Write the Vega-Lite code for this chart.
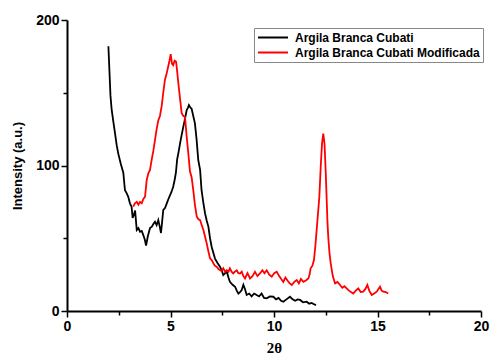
{
  "$schema": "https://vega.github.io/schema/vega-lite/v6.json",
  "width": 414,
  "height": 291,
  "autosize": {"type": "none"},
  "padding": {"left": 67, "top": 20, "right": 10, "bottom": 45},
  "background": "white",
  "config": {
    "view": {"stroke": null},
    "font": "Liberation Sans",
    "axis": {"grid": false, "domainColor": "black", "domainWidth": 2, "tickColor": "black", "tickWidth": 1.5, "labelColor": "black", "titleColor": "black"}
  },
  "datasets": {
    "xrd": [
      {"theta": 2.00, "intensity": 182, "sample": "Argila Branca Cubati"},
      {"theta": 2.05, "intensity": 165, "sample": "Argila Branca Cubati"},
      {"theta": 2.10, "intensity": 148, "sample": "Argila Branca Cubati"},
      {"theta": 2.16, "intensity": 138, "sample": "Argila Branca Cubati"},
      {"theta": 2.24, "intensity": 130, "sample": "Argila Branca Cubati"},
      {"theta": 2.32, "intensity": 122, "sample": "Argila Branca Cubati"},
      {"theta": 2.40, "intensity": 114, "sample": "Argila Branca Cubati"},
      {"theta": 2.48, "intensity": 108, "sample": "Argila Branca Cubati"},
      {"theta": 2.60, "intensity": 101, "sample": "Argila Branca Cubati"},
      {"theta": 2.72, "intensity": 95, "sample": "Argila Branca Cubati"},
      {"theta": 2.80, "intensity": 83, "sample": "Argila Branca Cubati"},
      {"theta": 2.88, "intensity": 81, "sample": "Argila Branca Cubati"},
      {"theta": 2.96, "intensity": 78.5, "sample": "Argila Branca Cubati"},
      {"theta": 3.04, "intensity": 74, "sample": "Argila Branca Cubati"},
      {"theta": 3.12, "intensity": 71.7, "sample": "Argila Branca Cubati"},
      {"theta": 3.17, "intensity": 64, "sample": "Argila Branca Cubati"},
      {"theta": 3.23, "intensity": 66, "sample": "Argila Branca Cubati"},
      {"theta": 3.29, "intensity": 69, "sample": "Argila Branca Cubati"},
      {"theta": 3.37, "intensity": 55.7, "sample": "Argila Branca Cubati"},
      {"theta": 3.45, "intensity": 57, "sample": "Argila Branca Cubati"},
      {"theta": 3.53, "intensity": 54.5, "sample": "Argila Branca Cubati"},
      {"theta": 3.61, "intensity": 55, "sample": "Argila Branca Cubati"},
      {"theta": 3.69, "intensity": 52, "sample": "Argila Branca Cubati"},
      {"theta": 3.76, "intensity": 49, "sample": "Argila Branca Cubati"},
      {"theta": 3.82, "intensity": 45, "sample": "Argila Branca Cubati"},
      {"theta": 3.90, "intensity": 51, "sample": "Argila Branca Cubati"},
      {"theta": 4.01, "intensity": 57, "sample": "Argila Branca Cubati"},
      {"theta": 4.10, "intensity": 58, "sample": "Argila Branca Cubati"},
      {"theta": 4.18, "intensity": 60, "sample": "Argila Branca Cubati"},
      {"theta": 4.25, "intensity": 61.4, "sample": "Argila Branca Cubati"},
      {"theta": 4.33, "intensity": 59, "sample": "Argila Branca Cubati"},
      {"theta": 4.41, "intensity": 62.5, "sample": "Argila Branca Cubati"},
      {"theta": 4.48, "intensity": 58, "sample": "Argila Branca Cubati"},
      {"theta": 4.54, "intensity": 53.6, "sample": "Argila Branca Cubati"},
      {"theta": 4.60, "intensity": 62, "sample": "Argila Branca Cubati"},
      {"theta": 4.65, "intensity": 69.4, "sample": "Argila Branca Cubati"},
      {"theta": 4.74, "intensity": 71, "sample": "Argila Branca Cubati"},
      {"theta": 4.82, "intensity": 74, "sample": "Argila Branca Cubati"},
      {"theta": 4.90, "intensity": 77, "sample": "Argila Branca Cubati"},
      {"theta": 4.98, "intensity": 79.7, "sample": "Argila Branca Cubati"},
      {"theta": 5.05, "intensity": 82, "sample": "Argila Branca Cubati"},
      {"theta": 5.13, "intensity": 85.4, "sample": "Argila Branca Cubati"},
      {"theta": 5.20, "intensity": 90, "sample": "Argila Branca Cubati"},
      {"theta": 5.26, "intensity": 95, "sample": "Argila Branca Cubati"},
      {"theta": 5.32, "intensity": 104, "sample": "Argila Branca Cubati"},
      {"theta": 5.40, "intensity": 110, "sample": "Argila Branca Cubati"},
      {"theta": 5.46, "intensity": 115, "sample": "Argila Branca Cubati"},
      {"theta": 5.54, "intensity": 121, "sample": "Argila Branca Cubati"},
      {"theta": 5.62, "intensity": 126.7, "sample": "Argila Branca Cubati"},
      {"theta": 5.70, "intensity": 132, "sample": "Argila Branca Cubati"},
      {"theta": 5.78, "intensity": 138, "sample": "Argila Branca Cubati"},
      {"theta": 5.85, "intensity": 140, "sample": "Argila Branca Cubati"},
      {"theta": 5.89, "intensity": 141.5, "sample": "Argila Branca Cubati"},
      {"theta": 5.95, "intensity": 140, "sample": "Argila Branca Cubati"},
      {"theta": 6.02, "intensity": 139, "sample": "Argila Branca Cubati"},
      {"theta": 6.10, "intensity": 134, "sample": "Argila Branca Cubati"},
      {"theta": 6.18, "intensity": 129, "sample": "Argila Branca Cubati"},
      {"theta": 6.26, "intensity": 118, "sample": "Argila Branca Cubati"},
      {"theta": 6.34, "intensity": 103.8, "sample": "Argila Branca Cubati"},
      {"theta": 6.43, "intensity": 97, "sample": "Argila Branca Cubati"},
      {"theta": 6.50, "intensity": 83, "sample": "Argila Branca Cubati"},
      {"theta": 6.58, "intensity": 75, "sample": "Argila Branca Cubati"},
      {"theta": 6.67, "intensity": 67, "sample": "Argila Branca Cubati"},
      {"theta": 6.75, "intensity": 62, "sample": "Argila Branca Cubati"},
      {"theta": 6.83, "intensity": 58, "sample": "Argila Branca Cubati"},
      {"theta": 6.91, "intensity": 50, "sample": "Argila Branca Cubati"},
      {"theta": 6.99, "intensity": 44, "sample": "Argila Branca Cubati"},
      {"theta": 7.07, "intensity": 40, "sample": "Argila Branca Cubati"},
      {"theta": 7.15, "intensity": 36, "sample": "Argila Branca Cubati"},
      {"theta": 7.27, "intensity": 33, "sample": "Argila Branca Cubati"},
      {"theta": 7.39, "intensity": 30.5, "sample": "Argila Branca Cubati"},
      {"theta": 7.47, "intensity": 28, "sample": "Argila Branca Cubati"},
      {"theta": 7.55, "intensity": 24.7, "sample": "Argila Branca Cubati"},
      {"theta": 7.64, "intensity": 26, "sample": "Argila Branca Cubati"},
      {"theta": 7.72, "intensity": 27, "sample": "Argila Branca Cubati"},
      {"theta": 7.80, "intensity": 23, "sample": "Argila Branca Cubati"},
      {"theta": 7.87, "intensity": 20, "sample": "Argila Branca Cubati"},
      {"theta": 8.00, "intensity": 18, "sample": "Argila Branca Cubati"},
      {"theta": 8.12, "intensity": 16.7, "sample": "Argila Branca Cubati"},
      {"theta": 8.20, "intensity": 14, "sample": "Argila Branca Cubati"},
      {"theta": 8.28, "intensity": 12, "sample": "Argila Branca Cubati"},
      {"theta": 8.36, "intensity": 13, "sample": "Argila Branca Cubati"},
      {"theta": 8.44, "intensity": 14.4, "sample": "Argila Branca Cubati"},
      {"theta": 8.52, "intensity": 18, "sample": "Argila Branca Cubati"},
      {"theta": 8.60, "intensity": 15, "sample": "Argila Branca Cubati"},
      {"theta": 8.68, "intensity": 11, "sample": "Argila Branca Cubati"},
      {"theta": 8.80, "intensity": 12, "sample": "Argila Branca Cubati"},
      {"theta": 8.92, "intensity": 10, "sample": "Argila Branca Cubati"},
      {"theta": 9.04, "intensity": 12, "sample": "Argila Branca Cubati"},
      {"theta": 9.16, "intensity": 11, "sample": "Argila Branca Cubati"},
      {"theta": 9.28, "intensity": 10, "sample": "Argila Branca Cubati"},
      {"theta": 9.40, "intensity": 12, "sample": "Argila Branca Cubati"},
      {"theta": 9.52, "intensity": 9, "sample": "Argila Branca Cubati"},
      {"theta": 9.65, "intensity": 8.7, "sample": "Argila Branca Cubati"},
      {"theta": 9.80, "intensity": 10, "sample": "Argila Branca Cubati"},
      {"theta": 9.97, "intensity": 9.8, "sample": "Argila Branca Cubati"},
      {"theta": 10.10, "intensity": 8, "sample": "Argila Branca Cubati"},
      {"theta": 10.22, "intensity": 9, "sample": "Argila Branca Cubati"},
      {"theta": 10.34, "intensity": 7, "sample": "Argila Branca Cubati"},
      {"theta": 10.45, "intensity": 6.4, "sample": "Argila Branca Cubati"},
      {"theta": 10.60, "intensity": 8, "sample": "Argila Branca Cubati"},
      {"theta": 10.77, "intensity": 9.8, "sample": "Argila Branca Cubati"},
      {"theta": 10.90, "intensity": 8, "sample": "Argila Branca Cubati"},
      {"theta": 11.02, "intensity": 7, "sample": "Argila Branca Cubati"},
      {"theta": 11.14, "intensity": 8, "sample": "Argila Branca Cubati"},
      {"theta": 11.26, "intensity": 7.6, "sample": "Argila Branca Cubati"},
      {"theta": 11.40, "intensity": 6, "sample": "Argila Branca Cubati"},
      {"theta": 11.58, "intensity": 6.4, "sample": "Argila Branca Cubati"},
      {"theta": 11.70, "intensity": 5, "sample": "Argila Branca Cubati"},
      {"theta": 11.82, "intensity": 5.5, "sample": "Argila Branca Cubati"},
      {"theta": 11.95, "intensity": 4.5, "sample": "Argila Branca Cubati"},
      {"theta": 12.03, "intensity": 4.1, "sample": "Argila Branca Cubati"},
      {"theta": 3.20, "intensity": 71.7, "sample": "Argila Branca Cubati Modificada"},
      {"theta": 3.28, "intensity": 74, "sample": "Argila Branca Cubati Modificada"},
      {"theta": 3.37, "intensity": 75, "sample": "Argila Branca Cubati Modificada"},
      {"theta": 3.45, "intensity": 73, "sample": "Argila Branca Cubati Modificada"},
      {"theta": 3.53, "intensity": 75, "sample": "Argila Branca Cubati Modificada"},
      {"theta": 3.61, "intensity": 74, "sample": "Argila Branca Cubati Modificada"},
      {"theta": 3.69, "intensity": 77, "sample": "Argila Branca Cubati Modificada"},
      {"theta": 3.77, "intensity": 78.5, "sample": "Argila Branca Cubati Modificada"},
      {"theta": 3.85, "intensity": 90, "sample": "Argila Branca Cubati Modificada"},
      {"theta": 3.93, "intensity": 94.6, "sample": "Argila Branca Cubati Modificada"},
      {"theta": 4.01, "intensity": 97, "sample": "Argila Branca Cubati Modificada"},
      {"theta": 4.09, "intensity": 103.8, "sample": "Argila Branca Cubati Modificada"},
      {"theta": 4.17, "intensity": 110, "sample": "Argila Branca Cubati Modificada"},
      {"theta": 4.25, "intensity": 117.5, "sample": "Argila Branca Cubati Modificada"},
      {"theta": 4.33, "intensity": 125, "sample": "Argila Branca Cubati Modificada"},
      {"theta": 4.41, "intensity": 131, "sample": "Argila Branca Cubati Modificada"},
      {"theta": 4.49, "intensity": 134, "sample": "Argila Branca Cubati Modificada"},
      {"theta": 4.57, "intensity": 140.4, "sample": "Argila Branca Cubati Modificada"},
      {"theta": 4.65, "intensity": 150, "sample": "Argila Branca Cubati Modificada"},
      {"theta": 4.73, "intensity": 158.8, "sample": "Argila Branca Cubati Modificada"},
      {"theta": 4.81, "intensity": 163, "sample": "Argila Branca Cubati Modificada"},
      {"theta": 4.89, "intensity": 168, "sample": "Argila Branca Cubati Modificada"},
      {"theta": 4.95, "intensity": 172, "sample": "Argila Branca Cubati Modificada"},
      {"theta": 5.01, "intensity": 176.6, "sample": "Argila Branca Cubati Modificada"},
      {"theta": 5.07, "intensity": 170, "sample": "Argila Branca Cubati Modificada"},
      {"theta": 5.13, "intensity": 169, "sample": "Argila Branca Cubati Modificada"},
      {"theta": 5.20, "intensity": 172, "sample": "Argila Branca Cubati Modificada"},
      {"theta": 5.27, "intensity": 171.3, "sample": "Argila Branca Cubati Modificada"},
      {"theta": 5.32, "intensity": 165, "sample": "Argila Branca Cubati Modificada"},
      {"theta": 5.38, "intensity": 156.5, "sample": "Argila Branca Cubati Modificada"},
      {"theta": 5.46, "intensity": 146, "sample": "Argila Branca Cubati Modificada"},
      {"theta": 5.54, "intensity": 136, "sample": "Argila Branca Cubati Modificada"},
      {"theta": 5.62, "intensity": 134, "sample": "Argila Branca Cubati Modificada"},
      {"theta": 5.70, "intensity": 133.6, "sample": "Argila Branca Cubati Modificada"},
      {"theta": 5.78, "intensity": 120, "sample": "Argila Branca Cubati Modificada"},
      {"theta": 5.86, "intensity": 108.4, "sample": "Argila Branca Cubati Modificada"},
      {"theta": 5.94, "intensity": 96, "sample": "Argila Branca Cubati Modificada"},
      {"theta": 6.02, "intensity": 92, "sample": "Argila Branca Cubati Modificada"},
      {"theta": 6.10, "intensity": 83, "sample": "Argila Branca Cubati Modificada"},
      {"theta": 6.18, "intensity": 73, "sample": "Argila Branca Cubati Modificada"},
      {"theta": 6.27, "intensity": 64.8, "sample": "Argila Branca Cubati Modificada"},
      {"theta": 6.35, "intensity": 63, "sample": "Argila Branca Cubati Modificada"},
      {"theta": 6.43, "intensity": 62.5, "sample": "Argila Branca Cubati Modificada"},
      {"theta": 6.51, "intensity": 59, "sample": "Argila Branca Cubati Modificada"},
      {"theta": 6.59, "intensity": 55.7, "sample": "Argila Branca Cubati Modificada"},
      {"theta": 6.67, "intensity": 51, "sample": "Argila Branca Cubati Modificada"},
      {"theta": 6.75, "intensity": 46.5, "sample": "Argila Branca Cubati Modificada"},
      {"theta": 6.83, "intensity": 41, "sample": "Argila Branca Cubati Modificada"},
      {"theta": 6.91, "intensity": 36.2, "sample": "Argila Branca Cubati Modificada"},
      {"theta": 6.99, "intensity": 35, "sample": "Argila Branca Cubati Modificada"},
      {"theta": 7.07, "intensity": 32.8, "sample": "Argila Branca Cubati Modificada"},
      {"theta": 7.15, "intensity": 31, "sample": "Argila Branca Cubati Modificada"},
      {"theta": 7.23, "intensity": 30.5, "sample": "Argila Branca Cubati Modificada"},
      {"theta": 7.31, "intensity": 29, "sample": "Argila Branca Cubati Modificada"},
      {"theta": 7.39, "intensity": 28, "sample": "Argila Branca Cubati Modificada"},
      {"theta": 7.47, "intensity": 27.5, "sample": "Argila Branca Cubati Modificada"},
      {"theta": 7.55, "intensity": 29.3, "sample": "Argila Branca Cubati Modificada"},
      {"theta": 7.64, "intensity": 27, "sample": "Argila Branca Cubati Modificada"},
      {"theta": 7.72, "intensity": 28, "sample": "Argila Branca Cubati Modificada"},
      {"theta": 7.80, "intensity": 27, "sample": "Argila Branca Cubati Modificada"},
      {"theta": 7.87, "intensity": 29.3, "sample": "Argila Branca Cubati Modificada"},
      {"theta": 7.95, "intensity": 27, "sample": "Argila Branca Cubati Modificada"},
      {"theta": 8.03, "intensity": 25.8, "sample": "Argila Branca Cubati Modificada"},
      {"theta": 8.11, "intensity": 27, "sample": "Argila Branca Cubati Modificada"},
      {"theta": 8.20, "intensity": 28, "sample": "Argila Branca Cubati Modificada"},
      {"theta": 8.28, "intensity": 26, "sample": "Argila Branca Cubati Modificada"},
      {"theta": 8.36, "intensity": 25.8, "sample": "Argila Branca Cubati Modificada"},
      {"theta": 8.44, "intensity": 27, "sample": "Argila Branca Cubati Modificada"},
      {"theta": 8.52, "intensity": 24, "sample": "Argila Branca Cubati Modificada"},
      {"theta": 8.60, "intensity": 22.4, "sample": "Argila Branca Cubati Modificada"},
      {"theta": 8.72, "intensity": 26, "sample": "Argila Branca Cubati Modificada"},
      {"theta": 8.84, "intensity": 22.4, "sample": "Argila Branca Cubati Modificada"},
      {"theta": 8.96, "intensity": 24, "sample": "Argila Branca Cubati Modificada"},
      {"theta": 9.08, "intensity": 27, "sample": "Argila Branca Cubati Modificada"},
      {"theta": 9.20, "intensity": 24, "sample": "Argila Branca Cubati Modificada"},
      {"theta": 9.32, "intensity": 25.8, "sample": "Argila Branca Cubati Modificada"},
      {"theta": 9.44, "intensity": 28, "sample": "Argila Branca Cubati Modificada"},
      {"theta": 9.54, "intensity": 26, "sample": "Argila Branca Cubati Modificada"},
      {"theta": 9.65, "intensity": 28, "sample": "Argila Branca Cubati Modificada"},
      {"theta": 9.77, "intensity": 25, "sample": "Argila Branca Cubati Modificada"},
      {"theta": 9.89, "intensity": 23.6, "sample": "Argila Branca Cubati Modificada"},
      {"theta": 10.01, "intensity": 26, "sample": "Argila Branca Cubati Modificada"},
      {"theta": 10.13, "intensity": 27, "sample": "Argila Branca Cubati Modificada"},
      {"theta": 10.25, "intensity": 24, "sample": "Argila Branca Cubati Modificada"},
      {"theta": 10.35, "intensity": 22, "sample": "Argila Branca Cubati Modificada"},
      {"theta": 10.45, "intensity": 20, "sample": "Argila Branca Cubati Modificada"},
      {"theta": 10.55, "intensity": 23, "sample": "Argila Branca Cubati Modificada"},
      {"theta": 10.65, "intensity": 21, "sample": "Argila Branca Cubati Modificada"},
      {"theta": 10.76, "intensity": 19, "sample": "Argila Branca Cubati Modificada"},
      {"theta": 10.86, "intensity": 17.9, "sample": "Argila Branca Cubati Modificada"},
      {"theta": 10.98, "intensity": 20, "sample": "Argila Branca Cubati Modificada"},
      {"theta": 11.10, "intensity": 21.3, "sample": "Argila Branca Cubati Modificada"},
      {"theta": 11.20, "intensity": 19, "sample": "Argila Branca Cubati Modificada"},
      {"theta": 11.30, "intensity": 22, "sample": "Argila Branca Cubati Modificada"},
      {"theta": 11.42, "intensity": 20, "sample": "Argila Branca Cubati Modificada"},
      {"theta": 11.54, "intensity": 21, "sample": "Argila Branca Cubati Modificada"},
      {"theta": 11.66, "intensity": 22.4, "sample": "Argila Branca Cubati Modificada"},
      {"theta": 11.72, "intensity": 25, "sample": "Argila Branca Cubati Modificada"},
      {"theta": 11.77, "intensity": 29.3, "sample": "Argila Branca Cubati Modificada"},
      {"theta": 11.85, "intensity": 31, "sample": "Argila Branca Cubati Modificada"},
      {"theta": 11.93, "intensity": 35, "sample": "Argila Branca Cubati Modificada"},
      {"theta": 12.00, "intensity": 45, "sample": "Argila Branca Cubati Modificada"},
      {"theta": 12.06, "intensity": 55.7, "sample": "Argila Branca Cubati Modificada"},
      {"theta": 12.12, "intensity": 66, "sample": "Argila Branca Cubati Modificada"},
      {"theta": 12.19, "intensity": 78.5, "sample": "Argila Branca Cubati Modificada"},
      {"theta": 12.26, "intensity": 100, "sample": "Argila Branca Cubati Modificada"},
      {"theta": 12.32, "intensity": 115, "sample": "Argila Branca Cubati Modificada"},
      {"theta": 12.38, "intensity": 122, "sample": "Argila Branca Cubati Modificada"},
      {"theta": 12.44, "intensity": 115, "sample": "Argila Branca Cubati Modificada"},
      {"theta": 12.50, "intensity": 95, "sample": "Argila Branca Cubati Modificada"},
      {"theta": 12.54, "intensity": 78.5, "sample": "Argila Branca Cubati Modificada"},
      {"theta": 12.58, "intensity": 62, "sample": "Argila Branca Cubati Modificada"},
      {"theta": 12.62, "intensity": 51, "sample": "Argila Branca Cubati Modificada"},
      {"theta": 12.68, "intensity": 40, "sample": "Argila Branca Cubati Modificada"},
      {"theta": 12.74, "intensity": 32.8, "sample": "Argila Branca Cubati Modificada"},
      {"theta": 12.84, "intensity": 24, "sample": "Argila Branca Cubati Modificada"},
      {"theta": 12.95, "intensity": 19, "sample": "Argila Branca Cubati Modificada"},
      {"theta": 13.07, "intensity": 20, "sample": "Argila Branca Cubati Modificada"},
      {"theta": 13.19, "intensity": 17.9, "sample": "Argila Branca Cubati Modificada"},
      {"theta": 13.30, "intensity": 16, "sample": "Argila Branca Cubati Modificada"},
      {"theta": 13.40, "intensity": 17, "sample": "Argila Branca Cubati Modificada"},
      {"theta": 13.51, "intensity": 15.5, "sample": "Argila Branca Cubati Modificada"},
      {"theta": 13.62, "intensity": 14, "sample": "Argila Branca Cubati Modificada"},
      {"theta": 13.72, "intensity": 13, "sample": "Argila Branca Cubati Modificada"},
      {"theta": 13.83, "intensity": 12, "sample": "Argila Branca Cubati Modificada"},
      {"theta": 13.95, "intensity": 14, "sample": "Argila Branca Cubati Modificada"},
      {"theta": 14.07, "intensity": 15.5, "sample": "Argila Branca Cubati Modificada"},
      {"theta": 14.19, "intensity": 13, "sample": "Argila Branca Cubati Modificada"},
      {"theta": 14.31, "intensity": 13.3, "sample": "Argila Branca Cubati Modificada"},
      {"theta": 14.41, "intensity": 15, "sample": "Argila Branca Cubati Modificada"},
      {"theta": 14.51, "intensity": 17.9, "sample": "Argila Branca Cubati Modificada"},
      {"theta": 14.60, "intensity": 14, "sample": "Argila Branca Cubati Modificada"},
      {"theta": 14.72, "intensity": 11, "sample": "Argila Branca Cubati Modificada"},
      {"theta": 14.84, "intensity": 12, "sample": "Argila Branca Cubati Modificada"},
      {"theta": 14.96, "intensity": 13.3, "sample": "Argila Branca Cubati Modificada"},
      {"theta": 15.04, "intensity": 15, "sample": "Argila Branca Cubati Modificada"},
      {"theta": 15.12, "intensity": 16.7, "sample": "Argila Branca Cubati Modificada"},
      {"theta": 15.20, "intensity": 14, "sample": "Argila Branca Cubati Modificada"},
      {"theta": 15.28, "intensity": 13.3, "sample": "Argila Branca Cubati Modificada"},
      {"theta": 15.40, "intensity": 13, "sample": "Argila Branca Cubati Modificada"},
      {"theta": 15.52, "intensity": 12, "sample": "Argila Branca Cubati Modificada"}
    ]
  },
  "data": {"name": "xrd"},
  "layer": [
    {
      "mark": {"type": "line", "strokeWidth": 1.8},
      "encoding": {
        "x": {"field": "theta", "type": "quantitative", "scale": {"domain": [0, 20], "nice": false},
          "axis": {"values": [0, 5, 10, 15, 20], "title": "2θ", "titleFont": "Liberation Serif", "titleFontWeight": "bold", "titleFontSize": 15, "titlePadding": 7, "labelFontSize": 14, "labelFontWeight": "bold", "tickSize": 6, "labelPadding": 2, "labelFlush": false}},
        "y": {"field": "intensity", "type": "quantitative", "scale": {"domain": [0, 200], "nice": false},
          "axis": {"values": [0, 100, 200], "title": "Intensity (a.u.)", "titleFontSize": 13, "titleFontWeight": "bold", "titlePadding": 11, "labelFontSize": 14, "labelFontWeight": "bold", "tickSize": 6, "labelPadding": 2, "labelFlush": false}},
        "color": {"field": "sample", "type": "nominal",
          "scale": {"domain": ["Argila Branca Cubati", "Argila Branca Cubati Modificada"], "range": ["black", "#ff0000"]},
          "legend": {"title": null, "orient": "none", "legendX": 187, "legendY": 8, "strokeColor": "#888888", "padding": 3, "symbolType": "stroke", "symbolSize": 900, "clipHeight": 13, "symbolStrokeWidth": 2, "labelFontSize": 12, "labelFontWeight": "bold", "labelColor": "black", "labelOffset": 6, "labelLimit": 0, "rowPadding": 2}}
      }
    },
    {
      "mark": {"type": "line", "opacity": 0},
      "encoding": {
        "x": {"field": "theta", "type": "quantitative", "axis": {"orient": "bottom", "values": [2.5, 7.5, 12.5, 17.5], "labels": false, "domain": false, "title": null, "tickSize": 4}},
        "y": {"field": "intensity", "type": "quantitative", "axis": {"orient": "left", "values": [50, 150], "labels": false, "domain": false, "title": null, "tickSize": 4}}
      }
    }
  ],
  "resolve": {"axis": {"x": "independent", "y": "independent"}}
}
